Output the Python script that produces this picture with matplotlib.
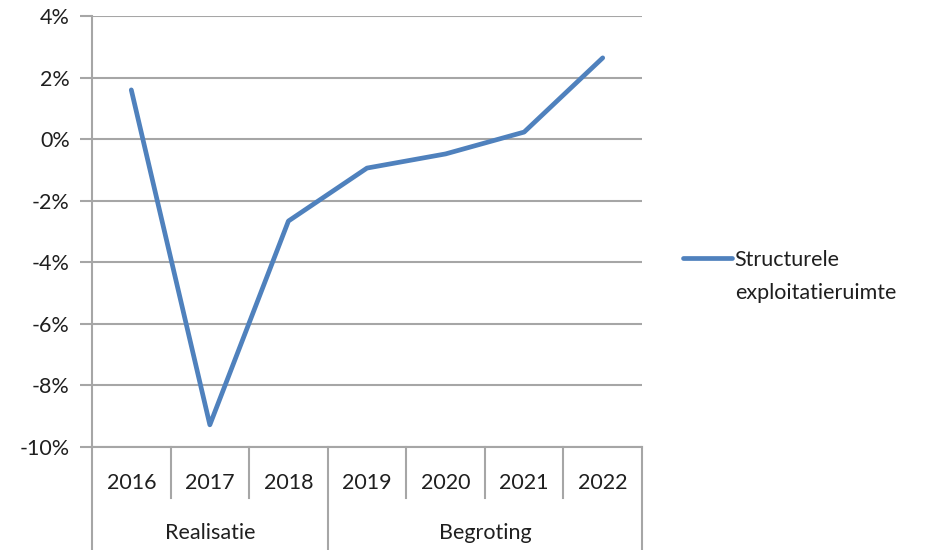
import matplotlib.pyplot as plt
import matplotlib.transforms as mtransforms
from matplotlib.ticker import FuncFormatter

# data
years = ['2016', '2017', '2018', '2019', '2020', '2021', '2022']
values = [1.6, -9.28, -2.66, -0.94, -0.48, 0.23, 2.64]
groups = ['Realisatie', 'Begroting']
group_sizes = [3, 4]
series_name = ['Structurele', 'exploitatieruimte']

plt.rcParams['font.family'] = ['Lato', 'DejaVu Sans']
grid_col = '#A6A6A6'
text_col = '#1F1F1F'
fs = 15.5

fig = plt.figure(figsize=(9.27, 5.5), dpi=100)
W, H = 927, 550
ax = fig.add_axes([92 / W, 1 - 447 / H, 550 / W, 431 / H])

x = list(range(len(years)))
line, = ax.plot(x, values, color='#4F81BD', linewidth=3.4, solid_capstyle='round',
                label=series_name[0], zorder=3)

ax.set_xlim(-0.5, len(years) - 0.5)
ax.set_ylim(-10, 4)
ax.set_yticks(range(-10, 5, 2))
ax.yaxis.set_major_formatter(FuncFormatter(lambda v, p: f'{v:.0f}%'))
ax.yaxis.grid(True, color=grid_col, linewidth=1.5)
ax.set_axisbelow(True)
ax.tick_params(axis='y', length=9, width=1.5, color=grid_col, labelsize=fs,
               labelcolor=text_col, pad=7)
ax.set_xticks([])
for s in ['top', 'right']:
    ax.spines[s].set_visible(False)
ax.spines['left'].set_color(grid_col)
ax.spines['left'].set_linewidth(1.5)
ax.spines['bottom'].set_color(grid_col)
ax.spines['bottom'].set_linewidth(1.5)

# multi-level category axis below the plot
trans = mtransforms.blended_transform_factory(ax.transData, fig.transFigure)
y_bottom = 1 - 447 / H
y_short = 1 - 498 / H
y_year = 1 - 483 / H
y_group = 1 - 533 / H

for i, yr in enumerate(years):
    ax.text(i, y_year, yr, transform=trans, ha='center', va='center',
            fontsize=fs, color=text_col)

boundaries = [-0.5]
for n in group_sizes:
    boundaries.append(boundaries[-1] + n)
for i in range(1, len(years)):
    b = i - 0.5
    y_end = 0 if b in boundaries else y_short
    ax.plot([b, b], [y_bottom, y_end], transform=trans, color=grid_col,
            linewidth=1.5, clip_on=False)
for b in [boundaries[0], boundaries[-1]]:
    ax.plot([b, b], [y_bottom, 0], transform=trans, color=grid_col,
            linewidth=1.5, clip_on=False)
for g, lo, hi in zip(groups, boundaries[:-1], boundaries[1:]):
    ax.text((lo + hi) / 2, y_group, g, transform=trans, ha='center', va='center',
            fontsize=fs, color=text_col)

# legend: handle sits next to the first line of the two-line label
leg = fig.legend(handles=[line], loc='center left', bbox_to_anchor=(672 / W, 1 - 260 / H),
                 frameon=False, fontsize=fs, handlelength=2.3, handletextpad=0.1,
                 labelcolor=text_col, borderpad=0)
fig.text(735 / W, 1 - 293 / H, series_name[1], ha='left', va='center',
         fontsize=fs, color=text_col)

fig.savefig('out.png', dpi=100)
